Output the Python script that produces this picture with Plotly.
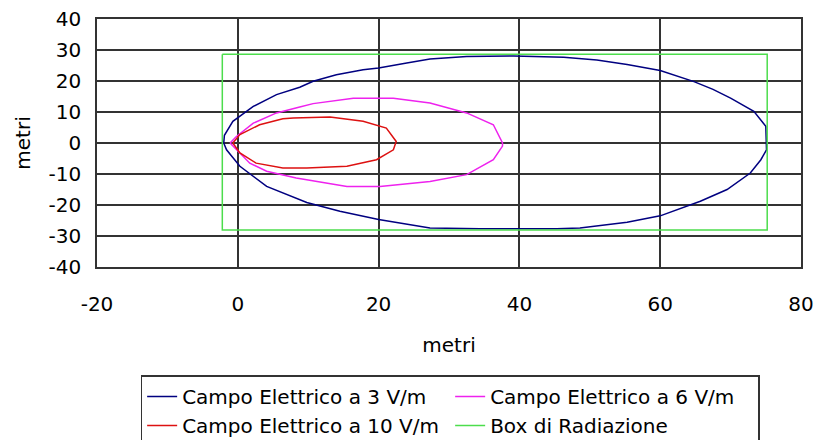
import plotly.graph_objects as go

# ---- data ----
names = ["Campo Elettrico a 3 V/m", "Campo Elettrico a 6 V/m",
         "Campo Elettrico a 10 V/m", "Box di Radiazione"]

x_3vm = [-2.0, -1.9, -0.7, 2.2, 5.5, 8.8, 10.7, 14.0, 17.8, 20.0, 24.0, 27.3, 32.5, 39.2,
         46.3, 51.0, 55.3, 60.0, 64.8, 67.5, 70.0, 73.3, 75.0, 75.1,
         75.1, 74.3, 72.8, 69.5, 65.7, 60.0, 55.3, 48.6, 45.3, 34.4, 27.3, 20.0, 14.5,
         9.8, 4.1, 0.3, -1.6, -2.0]
y_3vm = [0.0, 2.5, 7.0, 11.8, 15.6, 18.0, 19.9, 22.0, 23.6, 24.2, 25.8, 27.1, 27.9, 28.1,
         27.7, 26.8, 25.3, 23.4, 19.8, 17.3, 14.5, 10.2, 5.4, 0.0,
         -2.2, -5.4, -9.7, -15.0, -18.8, -23.5, -25.6, -27.4, -27.7, -27.7, -27.4, -24.7, -22.0,
         -19.2, -14.0, -7.5, -2.2, 0.0]

x_6vm = [-1.1, -0.2, 2.2, 5.5, 8.8, 10.7, 16.4, 22.1, 27.3, 32.5, 36.3, 37.6,
         37.6, 36.3, 32.5, 27.3, 20.2, 15.5, 8.3, 4.1, 1.7, -0.2, -1.1]
y_6vm = [0.0, 2.1, 6.4, 9.7, 11.6, 12.7, 14.4, 14.4, 12.9, 9.7, 5.9, 0.0,
         -1.0, -5.4, -10.2, -12.4, -14.0, -14.0, -11.3, -9.1, -6.5, -2.2, 0.0]

x_10vm = [-0.7, 0.3, 3.1, 6.4, 7.9, 13.1, 17.8, 21.1, 22.5,
          22.1, 19.7, 15.5, 9.8, 6.4, 2.6, 0.3, -0.7]
y_10vm = [0.0, 2.7, 5.9, 7.8, 8.1, 8.4, 7.0, 4.8, 0.5,
          -2.2, -5.4, -7.5, -8.1, -8.1, -6.5, -3.2, 0.0]

x_box = [-2.2, 75.2, 75.2, -2.2, -2.2]
y_box = [28.6, 28.6, -28.1, -28.1, 28.6]

x_ticks = [-20, 0, 20, 40, 60, 80]
y_ticks = [-40, -30, -20, -10, 0, 10, 20, 30, 40]

colors = ["#000080", "#EE22EE", "#DD1111", "#4CDD4C"]

FONT = "DejaVu Sans"

fig = go.Figure()
series = [(x_3vm, y_3vm), (x_6vm, y_6vm), (x_10vm, y_10vm), (x_box, y_box)]
for (xs, ys), nm, c in zip(series, names, colors):
    fig.add_trace(go.Scatter(x=xs, y=ys, mode="lines", name=nm,
                             line=dict(color=c, width=1.5)))

axis_common = dict(showgrid=True, gridcolor="#333333", gridwidth=1.5,
                   zeroline=False, showline=True, linecolor="#333333", linewidth=1.5,
                   mirror=True, ticks="", tickfont=dict(family=FONT, size=20, color="black"))

fig.update_layout(
    width=816, height=440,
    margin=dict(l=97, r=15, t=19, b=173, autoexpand=False),
    paper_bgcolor="white", plot_bgcolor="white",
    font=dict(family=FONT, size=20, color="black"),
    xaxis=dict(range=[-20, 80], tickvals=x_ticks, ticktext=[str(v) for v in x_ticks],
               title=dict(text="metri", standoff=23, font=dict(family=FONT, size=20)),
               ticklabelstandoff=18, **axis_common),
    yaxis=dict(range=[-40, 40], tickvals=y_ticks, ticktext=[str(v) for v in y_ticks],
               title=dict(text="metri", standoff=13, font=dict(family=FONT, size=20)),
               ticklabelstandoff=10, **axis_common),
    legend=dict(orientation="h", x=0.062, y=-0.437, xanchor="left", yanchor="top",
                entrywidth=263, bgcolor="white", bordercolor="#333333", borderwidth=1.5,
                font=dict(family=FONT, size=20, color="black"), itemwidth=30,
                tracegroupgap=0),
    showlegend=True,
)

fig.write_html("out.html", config={"displayModeBar": False},
               post_script="document.body.style.margin='0';document.body.style.padding='0';")
